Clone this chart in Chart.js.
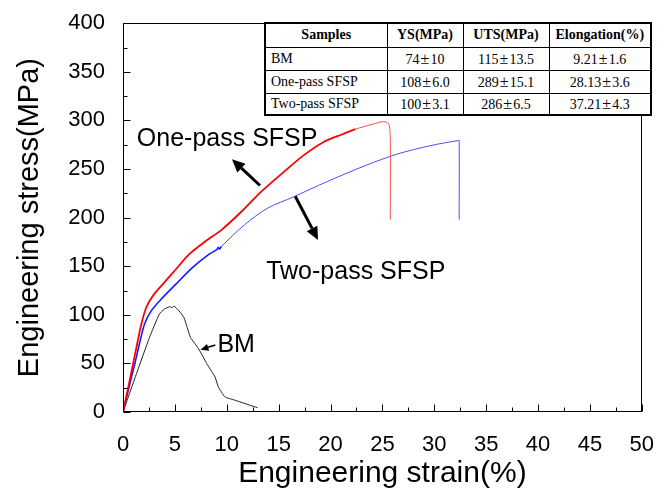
<!DOCTYPE html>
<html><head><meta charset="utf-8">
<script src="https://cdn.jsdelivr.net/npm/chart.js@4"></script>
<style>
html,body{margin:0;padding:0;background:#fff;}
#wrap{position:relative;width:666px;height:496px;}
#c{position:absolute;left:0;top:0;}
#tbl{position:absolute;left:264px;top:22px;width:386px;table-layout:fixed;border-collapse:collapse;
 font-family:"Liberation Serif","Times New Roman",serif;font-size:14px;color:#000;background:#fff;border:2px solid #000;}
#tbl td,#tbl th{border:1px solid #000;padding:0;text-align:center;white-space:nowrap;line-height:1;}
#tbl th{font-weight:bold;}
#tbl td.s{text-align:left;padding-left:5px;}
#tbl .pm{font-size:16px;margin:0 1px;}
</style>
</head><body>
<div id="wrap"><canvas id="c" width="666" height="496"></canvas><table id="tbl"></table></div>
<script>
// ---- data ----
const oneStrain = [0, 0.5, 0.98, 1.4, 1.77, 2.24, 2.87, 3.82, 5.08, 6.34, 7.92, 9.5, 11.4, 13.3, 15.5, 17.4, 19.3, 21.2, 22.4, 23.7, 25.0, 25.45, 25.66, 25.76, 25.76];
const oneStress = [0, 25, 50, 72, 90.5, 107.5, 119.4, 131.3, 146.6, 161.9, 175.5, 187.4, 206, 226.5, 247, 264, 277.6, 286, 291, 295, 298.6, 298, 295, 281, 198];
const twoStrain = [0, 0.5, 1.14, 1.6, 2.08, 2.72, 3.82, 5.08, 6.66, 8.24, 9.03, 9.19, 9.3, 9.5, 11.7, 13.9, 16.45, 19.6, 23.4, 26.5, 29.7, 32.3, 32.4, 32.4];
const twoStress = [0, 22, 49.7, 71, 90.5, 104, 117.7, 131.3, 148.3, 162, 167, 169.5, 167.5, 170.4, 192.5, 209.5, 221.4, 236.7, 253.7, 265.6, 274.2, 279.3, 279.5, 198];
const bmStrain = [0, 1.3, 2.56, 3.5, 3.98, 4.45, 4.76, 4.92, 5.4, 5.87, 6.19, 6.5, 7.29, 8.08, 8.87, 9.19, 9.82, 10.77, 12.97];
const bmStress = [0, 39.5, 76.8, 100.7, 105.8, 108.2, 107.5, 109, 104, 97.3, 87, 76.8, 65, 49.7, 36, 25.8, 15.6, 12.2, 4.4];
const xTicks = [0, 5, 10, 15, 20, 25, 30, 35, 40, 45, 50];
const yTicks = [0, 50, 100, 150, 200, 250, 300, 350, 400];
const tableHeader = ["Samples", "YS(MPa)", "UTS(MPa)", "Elongation(%)"];
const tableSamples = ["BM", "One-pass SFSP", "Two-pass SFSP"];
const tableYS = ["74\u00B110", "108\u00B16.0", "100\u00B13.1"];
const tableUTS = ["115\u00B113.5", "289\u00B115.1", "286\u00B16.5"];
const tableElong = ["9.21\u00B11.6", "28.13\u00B13.6", "37.21\u00B14.3"];

// ---- table ----
(function(){
  const t = document.getElementById('tbl');
  const widths = [122, 76, 86, 102];
  const heights = [24, 23, 23, 22];
  const pm = s => s.replace('\u00B1', '<span class="pm">\u00B1</span>');
  let html = '<colgroup>' + widths.map(w => '<col style="width:' + w + 'px">').join('') + '</colgroup>';
  html += '<tr style="height:' + heights[0] + 'px">' + tableHeader.map(h => '<th>' + h + '</th>').join('') + '</tr>';
  tableSamples.forEach((s, i) => {
    html += '<tr style="height:' + heights[i + 1] + 'px"><td class="s">' + s + '</td><td>' + pm(tableYS[i]) + '</td><td>' + pm(tableUTS[i]) + '</td><td>' + pm(tableElong[i]) + '</td></tr>';
  });
  t.innerHTML = html;
})();

// ---- annotations (data coordinates) ----
const notes = [
  {text: "One-pass SFSP", x: 1.33, y: 281},
  {text: "Two-pass SFSP", x: 13.8, y: 144},
  {text: "BM", x: 9.1, y: 69}
];
const arrows = [
  {x1: 13.2, y1: 233, x2: 10.5, y2: 260, w: 3, head: 13, hw: 6},
  {x1: 16.6, y1: 222, x2: 18.8, y2: 177, w: 3, head: 13, hw: 6},
  {x1: 8.9, y1: 69, x2: 7.47, y2: 64, w: 1.5, head: 8, hw: 3.5}
];

function pts(xs, ys){ return xs.map((v, i) => ({x: v, y: ys[i]})); }

function drawArrow(ctx, x1, y1, x2, y2, w, head, hw){
  const a = Math.atan2(y2 - y1, x2 - x1);
  const bx = x2 - head * Math.cos(a), by = y2 - head * Math.sin(a);
  ctx.lineWidth = w;
  ctx.beginPath(); ctx.moveTo(x1, y1); ctx.lineTo(bx, by); ctx.stroke();
  ctx.beginPath(); ctx.moveTo(x2, y2);
  ctx.lineTo(bx + hw * Math.sin(a), by - hw * Math.cos(a));
  ctx.lineTo(bx - hw * Math.sin(a), by + hw * Math.cos(a));
  ctx.closePath(); ctx.fill();
}

const decor = {
  id: 'decor',
  afterDatasetsDraw(chart){
    const {ctx, chartArea: a, scales: {x, y}} = chart;
    ctx.save();
    ctx.strokeStyle = '#000'; ctx.fillStyle = '#000'; ctx.lineWidth = 1;
    const L = Math.round(a.left) + 0.5, T = Math.round(a.top) + 0.5, R = Math.round(a.right) - 0.5, B = Math.round(a.bottom) - 0.5;
    ctx.strokeRect(L, T, R - L, B - T);
    ctx.beginPath();
    for (let i = 0; i < xTicks.length; i++){
      const px = Math.round(x.getPixelForValue(xTicks[i])) + 0.5;
      ctx.moveTo(px, B); ctx.lineTo(px, B - 7);
      if (i < xTicks.length - 1){
        const mx = Math.round(x.getPixelForValue((xTicks[i] + xTicks[i + 1]) / 2)) + 0.5;
        ctx.moveTo(mx, B); ctx.lineTo(mx, B - 4);
      }
    }
    for (let i = 0; i < yTicks.length; i++){
      const py = Math.round(y.getPixelForValue(yTicks[i])) + 0.5;
      ctx.moveTo(L, py); ctx.lineTo(L + 7, py);
      if (i < yTicks.length - 1){
        const my = Math.round(y.getPixelForValue((yTicks[i] + yTicks[i + 1]) / 2)) + 0.5;
        ctx.moveTo(L, my); ctx.lineTo(L + 4, my);
      }
    }
    ctx.stroke();
    arrows.forEach(ar => drawArrow(ctx, x.getPixelForValue(ar.x1), y.getPixelForValue(ar.y1), x.getPixelForValue(ar.x2), y.getPixelForValue(ar.y2), ar.w, ar.head, ar.hw));
    ctx.font = '25px "Liberation Sans", Arial, sans-serif';
    ctx.textAlign = 'left'; ctx.textBaseline = 'middle';
    notes.forEach(n => ctx.fillText(n.text, x.getPixelForValue(n.x), y.getPixelForValue(n.y)));
    ctx.restore();
  }
};

Chart.defaults.font.family = '"Liberation Sans", Arial, sans-serif';
Chart.defaults.color = '#000';

new Chart(document.getElementById('c'), {
  type: 'scatter',
  data: {
    datasets: [
      {label: 'One-pass SFSP', data: pts(oneStrain, oneStress), showLine: true, borderColor: '#ff0000', borderWidth: 1.8, pointRadius: 0, tension: 0.3,
       segment: {borderWidth: c => c.p0.parsed.x >= 22.4 ? 1 : 1.8, borderColor: c => c.p0.parsed.x >= 22.4 ? '#ff4a4a' : '#ff0000'}},
      {label: 'Two-pass SFSP', data: pts(twoStrain, twoStress), showLine: true, borderColor: '#2a2aff', borderWidth: 1.6, pointRadius: 0, tension: 0.3,
       segment: {borderWidth: c => c.p0.parsed.x >= 9.5 ? 1 : 1.6, borderColor: c => c.p0.parsed.x >= 9.5 ? '#4d4dff' : '#1a1aff'}},
      {label: 'BM', data: pts(bmStrain, bmStress), showLine: true, borderColor: '#222222', borderWidth: 1, pointRadius: 0, tension: 0.15}
    ]
  },
  options: {
    responsive: false,
    animation: false,
    layout: {padding: {top: 20, right: 15, left: 0, bottom: 0}},
    plugins: {legend: {display: false}, tooltip: {enabled: false}},
    scales: {
      x: {
        type: 'linear', min: 0, max: 50,
        grid: {display: false}, border: {display: false},
        afterBuildTicks(s){ s.ticks = xTicks.map(v => ({value: v})); },
        ticks: {color: '#000', font: {size: 22}, padding: 12, maxRotation: 0, autoSkip: false},
        title: {display: true, text: 'Engineering strain(%)', color: '#000', font: {size: 30}, padding: {top: 0, bottom: 4}},
        afterFit(s){ s.height = 84; }
      },
      y: {
        type: 'linear', min: 0, max: 400,
        grid: {display: false}, border: {display: false},
        afterBuildTicks(s){ s.ticks = yTicks.map(v => ({value: v})); },
        ticks: {color: '#000', font: {size: 22}, padding: 10, autoSkip: false},
        title: {display: true, text: 'Engineering stress(MPa)', color: '#000', font: {size: 29}, padding: {top: 13, bottom: 0}},
        afterFit(s){ s.width = 123; }
      }
    }
  },
  plugins: [decor]
});
</script>
</body></html>
